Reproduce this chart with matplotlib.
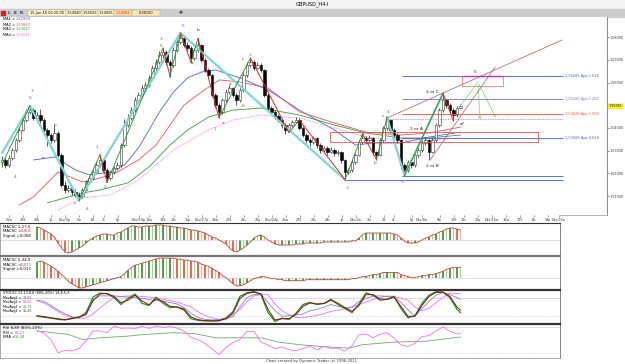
import numpy as np
import matplotlib.pyplot as plt
from matplotlib.patches import Rectangle

# ---------------- data ----------------
# GBPUSD H4 bars; the open of each bar is the previous close
first_open = 1.5250
close = [1.5259, 1.5237, 1.5268, 1.5303, 1.5347, 1.5391, 1.5435, 1.5471, 1.5479, 1.5444,
         1.5457, 1.5435, 1.5391, 1.5369, 1.5347, 1.5378, 1.5281, 1.5149, 1.5127, 1.5135,
         1.5118, 1.5105, 1.5100, 1.5127, 1.5162, 1.5179, 1.5206, 1.5237, 1.5259, 1.5215,
         1.5179, 1.5206, 1.5223, 1.5237, 1.5325, 1.5413, 1.5444, 1.5479, 1.5524, 1.5546,
         1.5576, 1.5590, 1.5621, 1.5665, 1.5691, 1.5722, 1.5735, 1.5691, 1.5678, 1.5744,
         1.5779, 1.5797, 1.5766, 1.5753, 1.5709, 1.5744, 1.5766, 1.5700, 1.5656, 1.5634,
         1.5546, 1.5501, 1.5471, 1.5524, 1.5559, 1.5576, 1.5546, 1.5524, 1.5568, 1.5634,
         1.5678, 1.5691, 1.5665, 1.5678, 1.5656, 1.5546, 1.5488, 1.5471, 1.5453, 1.5435,
         1.5413, 1.5391, 1.5413, 1.5426, 1.5435, 1.5400, 1.5369, 1.5347, 1.5338, 1.5356,
         1.5325, 1.5303, 1.5312, 1.5294, 1.5303, 1.5290, 1.5294, 1.5259, 1.5206, 1.5215,
         1.5250, 1.5281, 1.5338, 1.5356, 1.5347, 1.5356, 1.5294, 1.5281, 1.5347, 1.5400,
         1.5435, 1.5391, 1.5369, 1.5347, 1.5237, 1.5215, 1.5250, 1.5237, 1.5281, 1.5303,
         1.5334, 1.5347, 1.5294, 1.5347, 1.5413, 1.5479, 1.5524, 1.5501, 1.5479, 1.5457,
         1.5488, 1.5496]
high = [1.5275, 1.5268, 1.5280, 1.5312, 1.5356, 1.5405, 1.5448, 1.5485, 1.5498, 1.5490,
        1.5470, 1.5485, 1.5445, 1.5400, 1.5380, 1.5412, 1.5385, 1.5290, 1.5165, 1.5150,
        1.5145, 1.5130, 1.5118, 1.5135, 1.5170, 1.5190, 1.5215, 1.5248, 1.5282, 1.5265,
        1.5222, 1.5212, 1.5232, 1.5250, 1.5335, 1.5440, 1.5460, 1.5492, 1.5535, 1.5560,
        1.5588, 1.5602, 1.5635, 1.5678, 1.5705, 1.5738, 1.5752, 1.5742, 1.5700, 1.5755,
        1.5790, 1.5819, 1.5808, 1.5778, 1.5760, 1.5752, 1.5795, 1.5772, 1.5710, 1.5665,
        1.5640, 1.5555, 1.5510, 1.5532, 1.5570, 1.5590, 1.5582, 1.5555, 1.5575, 1.5645,
        1.5690, 1.5708, 1.5700, 1.5690, 1.5688, 1.5662, 1.5555, 1.5498, 1.5480, 1.5462,
        1.5445, 1.5420, 1.5422, 1.5435, 1.5448, 1.5442, 1.5408, 1.5378, 1.5355, 1.5365,
        1.5362, 1.5335, 1.5322, 1.5320, 1.5315, 1.5310, 1.5305, 1.5300, 1.5265, 1.5225,
        1.5258, 1.5290, 1.5348, 1.5374, 1.5365, 1.5368, 1.5360, 1.5300, 1.5355, 1.5410,
        1.5448, 1.5440, 1.5398, 1.5378, 1.5352, 1.5245, 1.5258, 1.5262, 1.5290, 1.5315,
        1.5345, 1.5360, 1.5352, 1.5355, 1.5422, 1.5490, 1.5553, 1.5530, 1.5510, 1.5488,
        1.5498, 1.5505]
low = [1.5230, 1.5222, 1.5230, 1.5260, 1.5295, 1.5340, 1.5385, 1.5428, 1.5460, 1.5435,
       1.5425, 1.5420, 1.5380, 1.5320, 1.5335, 1.5340, 1.5270, 1.5140, 1.5115, 1.5118,
       1.5105, 1.5095, 1.5080, 1.5092, 1.5120, 1.5155, 1.5172, 1.5200, 1.5230, 1.5205,
       1.5160, 1.5172, 1.5198, 1.5215, 1.5230, 1.5318, 1.5405, 1.5435, 1.5470, 1.5515,
       1.5538, 1.5565, 1.5582, 1.5612, 1.5655, 1.5682, 1.5710, 1.5680, 1.5628, 1.5670,
       1.5735, 1.5770, 1.5755, 1.5740, 1.5690, 1.5700, 1.5735, 1.5690, 1.5645, 1.5620,
       1.5535, 1.5490, 1.5445, 1.5462, 1.5515, 1.5550, 1.5535, 1.5500, 1.5515, 1.5560,
       1.5625, 1.5670, 1.5655, 1.5660, 1.5645, 1.5535, 1.5478, 1.5460, 1.5440, 1.5425,
       1.5400, 1.5375, 1.5382, 1.5405, 1.5420, 1.5390, 1.5360, 1.5335, 1.5320, 1.5330,
       1.5310, 1.5290, 1.5295, 1.5280, 1.5288, 1.5275, 1.5282, 1.5245, 1.5172, 1.5195,
       1.5208, 1.5242, 1.5275, 1.5330, 1.5335, 1.5340, 1.5282, 1.5260, 1.5275, 1.5340,
       1.5392, 1.5380, 1.5360, 1.5335, 1.5225, 1.5190, 1.5205, 1.5225, 1.5230, 1.5272,
       1.5295, 1.5325, 1.5260, 1.5288, 1.5340, 1.5405, 1.5470, 1.5490, 1.5468, 1.5430,
       1.5450, 1.5485]

# moving averages on the price chart (bar index, price)
ma1_bar = [9, 15, 21, 25, 31, 35, 39, 42, 45, 49, 53, 57, 61, 68, 76, 85, 95, 101, 106, 114, 122, 131]
ma1_val = [1.5259, 1.5272, 1.5215, 1.5193, 1.5206, 1.5237, 1.5312, 1.5391, 1.5471, 1.5559, 1.5621,
           1.5647, 1.5656, 1.5621, 1.5568, 1.5479, 1.5391, 1.5325, 1.5334, 1.5334, 1.5360, 1.5382]
ma2_bar = [5, 9, 16, 23, 28, 33, 39, 44, 48, 52, 57, 62, 68, 76, 85, 95, 104, 114, 122, 131]
ma2_val = [1.5061, 1.5096, 1.5206, 1.5162, 1.5179, 1.5206, 1.5259, 1.5325, 1.5413, 1.5501, 1.5559,
           1.5612, 1.5603, 1.5576, 1.5471, 1.5422, 1.5382, 1.5369, 1.5378, 1.5404]
ma3_bar = [13, 23, 28, 36, 42, 48, 53, 59, 66, 74, 85, 95, 104, 114, 122, 131]
ma3_val = [1.5070, 1.5113, 1.5127, 1.5158, 1.5228, 1.5325, 1.5391, 1.5448, 1.5479, 1.5488, 1.5457,
           1.5413, 1.5378, 1.5356, 1.5356, 1.5369]
ma4_bar = [16, 23, 31, 39, 49, 59, 66, 74, 85, 95, 104, 114, 122, 131]
ma4_val = [1.5039, 1.5091, 1.5105, 1.5171, 1.5303, 1.5391, 1.5435, 1.5457, 1.5444, 1.5400, 1.5360,
           1.5347, 1.5347, 1.5356]

# wave count lines (bar, price)
cyan_bar = [0, 8, 22, 51, 98]
cyan_val = [1.5290, 1.5498, 1.5080, 1.5819, 1.5172]
cyan2_bar = [110, 115, 126]
cyan2_val = [1.5448, 1.5190, 1.5553]
green_legs = [((0, 1.5240), (8, 1.5498)), ((22, 1.5080), (28, 1.5282)), ((30, 1.5160), (46, 1.5752)),
              ((48, 1.5628), (51, 1.5819)), ((54, 1.5690), (56, 1.5795)), ((62, 1.5445), (71, 1.5708)),
              ((82, 1.5380), (85, 1.5435)), ((98, 1.5172), (103, 1.5374)), ((107, 1.5260), (110, 1.5448)),
              ((115, 1.5190), (126, 1.5553))]
red_legs = [((28, 1.5282), (30, 1.5160)), ((46, 1.5752), (48, 1.5628)), ((56, 1.5795), (62, 1.5445)),
            ((71, 1.5708), (82, 1.5380)), ((85, 1.5435), (98, 1.5172)), ((103, 1.5374), (107, 1.5260)),
            ((126, 1.5553), (129, 1.5430)), ((51, 1.5819), (54, 1.5690))]
wave_labels = [(8.6, 1.5563, '3', '#2e9e2e'), (8.0, 1.5532, '5', '#4060d0'), (3.7, 1.5184, '4', '#4060d0'),
               (11.7, 1.5268, 'a', '#555555'), (15.1, 1.5413, 'b', '#555555'), (20.9, 1.5069, 'c', '#555555'),
               (24.3, 1.5043, '4', '#2e9e2e'), (27.1, 1.5316, '1', '#4060d0'), (29.4, 1.5140, '2', '#4060d0'),
               (45.4, 1.5793, '3', '#4060d0'), (45.4, 1.5762, '5', '#555555'), (48.0, 1.5625, '4', '#4060d0'),
               (51.7, 1.5850, '5', '#4060d0'), (54.3, 1.5687, 'a', '#333333'), (56.0, 1.5832, 'b', '#333333'),
               (60.9, 1.5395, '1', '#2e9e2e'), (63.1, 1.5422, 'a', '#555555'), (68.9, 1.5704, 'c', '#555555'),
               (70.9, 1.5722, '2', '#2e9e2e'), (65.1, 1.5594, 'a', '#555555'), (68.9, 1.5497, 'b', '#555555'),
               (98.6, 1.5135, '3', '#2e9e2e'), (103.1, 1.5373, 'a', '#555555'), (106.6, 1.5245, 'b', '#555555'),
               (108.9, 1.5453, 'c', '#555555'), (110.3, 1.5470, '4', '#2e9e2e'), (114.3, 1.5162, '5', '#4060d0'),
               (118.3, 1.5395, '1 or A', '#222222'), (122.9, 1.5232, '2 or B', '#222222'),
               (123.1, 1.5559, '3 or C', '#222222'), (131.4, 1.5417, 'a?', '#222222'), (135.1, 1.5647, '5', '#222222')]

# projection levels
fib_levels = [1.5629, 1.5528, 1.5462, 1.5356]
fib_text = ['1,56285 App 1.618', '1,55280 App 1.250', '1,54620 App 1.000', '1,53560 App 0.618']
fib_colors = ['#4060e0', '#7070d0', '#ff5030', '#4060e0']

# indicators, bar 10 onwards (MACD in thousandths)
macd1 = [13, 12, 10, 8, 6, 3, -3, -8, -12, -13,
         -12, -10, -8, -6, -3, 0, 2, 4, 5, 6,
         6, 5, 5, 7, 8, 10, 12, 14, 14, 13,
         13, 14, 14, 14, 15, 15, 15, 14, 14, 13,
         13, 12, 12, 11, 10, 10, 9, 8, 7, 5,
         3, 2, 0, -2, -4, -8, -11, -12, -10, -8,
         -5, -2, 2, 4, 5, 3, 0, -2, -4, -5,
         -5, -5, -5, -5, -4, -4, -4, -3, -3, -3,
         -3, -3, -2, -2, -2, -2, -2, -2, -2, -2,
         -1, -1, 2, 5, 7, 7, 7, 7, 7, 7,
         7, 7, 6, 5, 2, -1, -3, -3, -3, -2,
         0, 2, 3, 5, 6, 8, 9, 11, 12, 12,
         11, 10]
macd2 = [15, 16, 15, 13, 11, 9, 6, 3, 0, -4,
         -6, -8, -10, -10, -9, -8, -7, -6, -5, -4,
         -3, -2, -1, 0, 1, 4, 7, 10, 12, 13,
         14, 15, 16, 17, 18, 19, 19, 19, 19, 19,
         18, 18, 17, 17, 16, 16, 15, 13, 12, 11,
         9, 7, 5, 2, 0, -3, -6, -8, -8, -7,
         -5, -3, -1, 0, 1, 1, 0, -1, -1, -2,
         -2, -3, -3, -3, -3, -3, -3, -2, -2, -2,
         -2, -2, -2, -2, -2, -2, -2, -2, -2, -2,
         -1, -1, 0, 1, 1, 2, 3, 3, 4, 5,
         5, 5, 5, 5, 3, 2, 1, 0, 0, 1,
         2, 2, 3, 3, 4, 5, 6, 8, 9, 10,
         10, 10]

# stochastic and RSI, every 2nd bar from 10 to 130, then bar 131
stoch_fast = [20, 17, 14, 10, 8, 14, 18, 30, 82, 95,
              93, 80, 58, 78, 92, 62, 55, 82, 62, 48,
              50, 40, 12, 7, 5, 5, 5, 15, 35, 85,
              96, 100, 90, 32, 3, 14, 10, 30, 58, 65,
              58, 62, 75, 58, 45, 32, 60, 96, 88, 72,
              75, 85, 45, 15, 22, 62, 88, 100, 98, 80,
              42, 32]
stoch_slow = [22, 19, 15, 12, 9, 12, 17, 25, 70, 92,
              94, 84, 64, 72, 88, 70, 57, 76, 68, 52,
              50, 44, 18, 9, 6, 5, 6, 12, 30, 78,
              94, 98, 93, 42, 8, 12, 12, 26, 52, 63,
              60, 61, 72, 62, 48, 36, 55, 90, 90, 76,
              74, 82, 52, 20, 20, 55, 84, 97, 98, 84,
              50, 40]
stoch_avg1 = [72, 68, 55, 40, 28, 18, 14, 35, 75, 86,
              86, 86, 84, 82, 80, 78, 74, 71, 68, 65,
              60, 48, 30, 16, 10, 8, 10, 14, 19, 50,
              81, 90, 92, 65, 38, 20, 22, 24, 28, 38,
              42, 50, 58, 52, 48, 50, 68, 78, 85, 86,
              84, 82, 65, 40, 22, 45, 68, 88, 97, 90,
              80, 75]
stoch_avg2 = [70, 63, 50, 35, 22, 16, 14, 14, 28, 47,
              65, 81, 84, 86, 86, 84, 82, 80, 75, 71,
              66, 58, 50, 35, 22, 15, 10, 8, 25, 42,
              68, 86, 90, 90, 60, 38, 25, 16, 16, 19,
              23, 28, 36, 40, 44, 48, 58, 66, 74, 80,
              86, 84, 78, 72, 50, 38, 46, 64, 81, 95,
              94, 92]
rsi = [72, 66, 50, 20, 26, 24, 30, 48, 71, 71,
       67, 82, 77, 78, 76, 82, 77, 82, 79, 81,
       78, 71, 56, 51, 42, 29, 16, 33, 44, 51,
       70, 70, 45, 38, 30, 34, 27, 25, 30, 35,
       27, 35, 30, 31, 24, 37, 62, 64, 55, 63,
       67, 54, 38, 35, 42, 58, 60, 71, 80, 70,
       64, 65]
rsi_ema_bar = [10, 19, 23, 28, 36, 41, 49, 55, 61, 68, 74, 79, 85, 91, 99, 103, 112, 121, 131]
rsi_ema_val = [71, 63, 51, 55, 59, 63, 67, 65, 55, 55, 55, 45, 39, 35, 31, 39, 45, 47, 57]

time_bar = [2, 6, 10, 14, 18, 22, 26, 29, 33, 39, 42, 46, 49, 53, 57, 61, 65, 69, 73, 77, 81,
            85, 89, 93, 97, 101, 105, 109, 112, 117, 120, 125, 129, 132, 136, 140, 144, 148, 152, 156, 159]
time_lbl = ['26w', '28S', '30k', '1p', 'Nov/3p', '5w', '6S', '7c', '8p', 'Nov/10p', '12w', '13S', '14c',
            '15p', 'Nov/17p', '19w', '20S', '21c', '22p', 'Nov/24p', '26w', '27S', '28c', '29c', '1p',
            'Dec/2a', '3w', '3S', '4t', '5p', 'Dec/8a', '9w', '10S', '11c', '12p', 'Dec/15a', '16w',
            '17S', '18c', '19p', 'Dec/22a']

# ---------------- layout (pixels of a 625x364 image) ----------------
W, H = 625, 364
X0, DX = 2, 3.5   # x pixel of bar 0 and bar spacing

fig = plt.figure(figsize=(6.25, 3.64), dpi=100)
fig.patch.set_facecolor('white')


def pax(x0, y0, x1, y1, xr):
    a = fig.add_axes([x0 / W, 1 - y1 / H, (x1 - x0) / W, (y1 - y0) / H])
    a.set_xlim(-X0 / DX, (xr - X0) / DX)
    a.set_xticks([])
    a.set_yticks([])
    a.set_facecolor('white')
    return a


def ftext(x, y, s, **kw):
    kw.setdefault('fontsize', 2.8)
    kw.setdefault('va', 'center')
    fig.text(x / W, 1 - y / H, s, **kw)


# header band
fig.add_artist(Rectangle((0, 1 - 9 / H), 1, 9 / H, transform=fig.transFigure, color='#f3f3f3', zorder=0))
fig.add_artist(Rectangle((0, 1 - 17 / H), 1, 8 / H, transform=fig.transFigure, color='#cdcdcd', zorder=0))
ftext(312, 4, 'GBPUSD_H4-I', fontsize=3.6, ha='center')
fig.add_artist(Rectangle((1.5 / W, 1 - 15 / H), 3.5 / W, 4 / H, transform=fig.transFigure, color='#d02020'))
for xx, s in zip([8, 14, 20], ['L', 'E', 'R']):
    ftext(xx, 13, s, fontsize=3, color='#333366', fontweight='bold')
boxes = [(28, 66, '15-Jan-15 02:20:00', '#fff8c8', 'black'), (66, 82, '1,54940', '#fff8c8', 'black'),
         (82, 98, '1,55025', '#fff8c8', 'black'), (98, 114, '1,54925', '#fff8c8', 'black'),
         (114, 132, '1,54961', '#ffd9a0', '#e03030'), (132, 160, '0,38100', '#ffe6b0', 'black')]
for b0, b1, s, fc, tc in boxes:
    fig.add_artist(Rectangle((b0 / W, 1 - 16 / H), (b1 - b0) / W, 6 / H, transform=fig.transFigure,
                             facecolor=fc, edgecolor='#a0a0a0', linewidth=0.3))
    ftext((b0 + b1) / 2, 13, s, fontsize=2.5, ha='center', color=tc)
ftext(181, 13, '\u271a', fontsize=3.5, ha='center', color='#333333')

# ---------------- price panel ----------------
ax = pax(0, 17, 607, 215, 607)
ax.set_ylim(1.50163, 1.58895)
for side in ['left', 'top']:
    ax.spines[side].set_visible(False)
ax.spines['right'].set_color('#777777')
ax.spines['right'].set_linewidth(0.6)
ax.spines['bottom'].set_color('#999999')
ax.spines['bottom'].set_linewidth(0.5)
yt = [1.51, 1.52, 1.53, 1.54, 1.55, 1.56, 1.57, 1.58]
ax.set_yticks(yt)
ax.set_yticklabels([f'{v:.5f}'.replace('.', ',') for v in yt])
ax.tick_params(axis='y', right=True, left=False, labelright=True, labelleft=False,
               labelsize=2.4, length=1.2, width=0.4, pad=0.6, colors='#333333')

ax.plot(ma1_bar, ma1_val, color='#4a5ee8', lw=0.6, zorder=2)
ax.plot(ma2_bar, ma2_val, color='#f05050', lw=0.6, zorder=2)
ax.plot(ma3_bar, ma3_val, color='#3a9a3a', lw=0.6, zorder=2)
ax.plot(ma4_bar, ma4_val, color='#f070f0', lw=0.6, ls=(0, (1, 1)), zorder=2)

n = len(close)
bars = np.arange(n)
c = np.array(close)
o = np.array([first_open] + close[:-1])
up = c >= o
lo_b = np.minimum(o, c)
h_b = np.maximum(np.abs(c - o), 0.00015)
ax.vlines(bars, low, high, color='black', lw=0.45, zorder=3)
ax.bar(bars[up], h_b[up], bottom=lo_b[up], width=0.62, color='white', edgecolor='#333333',
       linewidth=0.4, zorder=4)
ax.bar(bars[~up], h_b[~up], bottom=lo_b[~up], width=0.62, color='black', edgecolor='black',
       linewidth=0.4, zorder=4)

# wave lines
ax.plot(cyan_bar, cyan_val, color='#7fd6cc', lw=1.6, zorder=5, solid_capstyle='round')
ax.plot(cyan2_bar, cyan2_val, color='#7fd6cc', lw=1.6, zorder=5, solid_capstyle='round')
for (a0, p0), (a1, p1) in green_legs:
    ax.plot([a0, a1], [p0, p1], color='#1f8f1f', lw=0.6, zorder=6)
for (a0, p0), (a1, p1) in red_legs:
    ax.plot([a0, a1], [p0, p1], color='#ee2222', lw=0.7, zorder=6)
for xb, pv, s, col in wave_labels:
    ax.text(xb, pv, s, fontsize=3.2, color=col, ha='center', va='center', zorder=7)

# levels and boxes
end_bar = (563 - X0) / DX
ax.hlines(1.5171, 98, end_bar, color='#3a5adf', lw=0.6, zorder=5)
ax.hlines(1.5189, 114.3, end_bar, color='#3a5adf', lw=0.6, zorder=5)
ax.hlines(1.5440, 109.7, end_bar, color='#9080d0', lw=0.6, ls=(0, (1, 1)), zorder=5)
for lv, s, col in zip(fib_levels, fib_text, fib_colors):
    ax.hlines(lv, 114.3, end_bar, color=col, lw=0.6, zorder=5)
    ax.text(end_bar + 0.6, lv, s, fontsize=2.5, color=col, va='center', ha='left')
ax.add_patch(Rectangle((93.7, 1.5339), 153.1 - 93.7, 1.5383 - 1.5339, facecolor='none',
                       edgecolor='#f05050', lw=0.6, zorder=5))
ax.add_patch(Rectangle((131.4, 1.5585), 11.7, 1.5629 - 1.5585, facecolor='none',
                       edgecolor='#f08080', lw=0.6, zorder=5))
ax.hlines(1.5629, 131.4, 143.1, color='#c030c0', lw=1.0, zorder=6)
ax.plot([110, 160], [1.5444, 1.5788], color='#b87070', lw=0.6, zorder=5)
ax.plot([122.3, 140.9], [1.5259, 1.5669], color='#b87070', lw=0.6, zorder=5)
ax.plot([130.9, 136], [1.5497, 1.5603], color='#80e080', lw=0.6, zorder=5)
for tip in [(141.4, 1.5435), (136.6, 1.5426)]:
    ax.annotate('', xy=tip, xytext=(136, 1.5603),
                arrowprops=dict(arrowstyle='->', color='#80e080', lw=0.6, mutation_scale=4))
ax.text(1.003, 1.5496, '1,55061', transform=ax.get_yaxis_transform(), fontsize=2.4,
        va='center', ha='left', bbox=dict(boxstyle='square,pad=0.12', fc='#ffff30', ec='#c0c000', lw=0.3))

# MA legend
ma_leg = [('MA1 =', '1,52900', '#4a5ee8'), ('MA2 =', '1,53857', '#f05050'),
          ('MA3 =', '1,53047', '#3a9a3a'), ('MA4 =', '1,53041', '#f070f0')]
for k, (lab, val, col) in enumerate(ma_leg):
    ftext(3, 19.5 + 5 * k, lab, fontsize=2.6)
    ftext(16, 19.5 + 5 * k, val, color=col, fontsize=2.6)

# ---------------- time strip ----------------
IR = 560
tax = pax(0, 215, IR, 223, IR)
tax.set_ylim(0, 1)
for s in tax.spines.values():
    s.set_visible(False)
for tb, tl in zip(time_bar, time_lbl):
    tax.plot([tb, tb], [0.8, 1.0], color='#666666', lw=0.4)
    tax.text(tb, 0.4, tl, fontsize=2.4, ha='center', va='center', color='#333333')

# ---------------- indicator panels ----------------
def style_panel(a, top_lw, top_col):
    for s in a.spines.values():
        s.set_linewidth(0.5)
        s.set_color('#888888')
    a.spines['top'].set_linewidth(top_lw)
    a.spines['top'].set_color(top_col)
    a.spines['right'].set_color('#555555')


ind_bar = np.arange(10, 132)
samp_bar = list(range(10, 131, 2)) + [131]


def macd_panel(a, vals):
    v = np.array(vals)
    d = np.diff(np.r_[v[0], v])
    cols = []
    for k, dv in enumerate(d):
        if dv >= 0:
            cols.append('#5a9e4a' if k % 2 == 0 else '#a8d49a')
        else:
            cols.append('#ee6a4a' if k % 2 == 0 else '#f5aab0')
    a.axhline(0, color='#cccccc', lw=0.4)
    a.bar(ind_bar, v, width=0.35, color=cols, linewidth=0)
    a.plot(ind_bar, v, color='#b04a3a', lw=0.6)


m1 = pax(0, 223, IR, 256, IR)
m1.set_ylim(-16, 17)
style_panel(m1, 0.8, '#333333')
macd_panel(m1, macd1)
ftext(3, 227, 'MACSC 5,17,5')
ftext(3, 231.5, 'MACSC =')
ftext(21, 231.5, '0,005', color='#e03030')
ftext(3, 236, 'Signal =0,008')

m2 = pax(0, 256, IR, 290, IR)
m2.set_ylim(-12, 21)
style_panel(m2, 1.6, '#777777')
macd_panel(m2, macd2)
ftext(3, 260, 'MACSC 5,34,5')
ftext(3, 264.5, 'MACSC =')
ftext(21, 264.5, '0,011', color='#e03030')
ftext(3, 269, 'Signal =0,013')

st = pax(0, 290, IR, 324, IR)
st.set_ylim(-5, 105)
style_panel(st, 1.6, '#333333')
st.axhline(80, color='#cccccc', lw=0.5)
st.axhline(20, color='#cccccc', lw=0.5, ls=(0, (1, 1)))
st.plot(samp_bar, stoch_avg2, color='#f070f0', lw=0.6)
st.plot(samp_bar, stoch_avg1, color='#8080d0', lw=0.6)
st.plot(samp_bar, stoch_fast, color='#1f8f1f', lw=0.9)
st.plot(samp_bar, stoch_slow, color='#8b1010', lw=0.7)
ftext(3, 293.5, 'STOCSC 21,13,8,8 (80%-20%) 14,8,5,3', fontsize=2.4)
for k, (lab, val, col) in enumerate([('MovAvg1 =', '74,83', '#4a5ee8'), ('MovAvg2 =', '89,60', '#e040e0'),
                                     ('MovAvg3 =', '26,72', '#1f8f1f'), ('MovAvg4 =', '35,25', '#8b1010')]):
    ftext(3, 298 + 4.4 * k, lab, fontsize=2.3)
    ftext(22.5, 298 + 4.4 * k, val, color=col, fontsize=2.3)

rs = pax(0, 324, IR, 358, IR)
rs.set_ylim(8, 87.2)
style_panel(rs, 1.6, '#333333')
rs.axhline(80, color='#cccccc', lw=0.5)
rs.axhline(20, color='#cccccc', lw=0.5, ls=(0, (1, 1)))
rs.plot(rsi_ema_bar, rsi_ema_val, color='#6aa86a', lw=0.6)
rs.plot(samp_bar, rsi, color='#f070f0', lw=0.6)
ftext(3, 328, 'RSI 8,89 (80%-20%)')
ftext(3, 332.5, 'RSI =', fontsize=2.6)
ftext(14.5, 332.5, '65,21', color='#e040e0', fontsize=2.6)
ftext(3, 337, 'EMA =', fontsize=2.6)
ftext(14.5, 337, '56,34', color='#1f8f1f', fontsize=2.6)

# footer
ftext(312, 361, 'Chart created by Dynamic Trader (c) 1996-2011', fontsize=2.7, ha='center', color='#333333')

fig.savefig('out.png', dpi=100, facecolor='white')
